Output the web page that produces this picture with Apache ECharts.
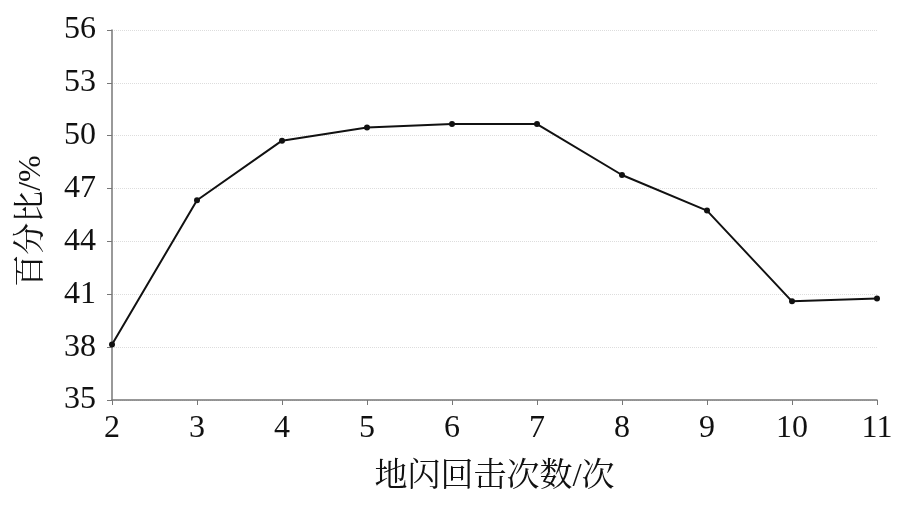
<!DOCTYPE html>
<html><head><meta charset="utf-8">
<script src="https://cdn.jsdelivr.net/npm/echarts@6/dist/echarts.min.js"></script>
<style>html,body{margin:0;padding:0;background:#fff}#c{width:909px;height:506px}</style>
</head><body><div id="c"></div>
<script>
const strokes = [2, 3, 4, 5, 6, 7, 8, 9, 10, 11];
const percent = [38.15, 46.34, 49.72, 50.47, 50.66, 50.66, 47.77, 45.75, 40.6, 40.76];
const xName = '地闪回击次数/次';
const yName = '百分比/%';
const serif = '"Liberation Serif", "Noto Serif CJK SC", "Noto Sans CJK SC", serif';

const chart = echarts.init(document.getElementById('c'));
chart.setOption({
  animation: false,
  grid: {left: 112, right: 32, top: 30, bottom: 106, containLabel: false, outerBoundsMode: 'none'},
  xAxis: {
    type: 'value', min: 2, max: 11, interval: 1,
    name: xName, nameLocation: 'middle', nameGap: 61, nameMoveOverlap: false,
    nameTextStyle: {fontFamily: serif, fontSize: 33, color: '#111'},
    axisLine: {show: true, lineStyle: {color: '#777', width: 1.5}},
    axisTick: {show: true, length: 5, lineStyle: {color: '#777'}},
    axisLabel: {fontFamily: serif, fontSize: 32, color: '#111', margin: 13},
    splitLine: {show: false}
  },
  yAxis: {
    type: 'value', min: 35, max: 56, interval: 3,
    name: yName, nameLocation: 'middle', nameGap: 64, nameRotate: 90, nameMoveOverlap: false,
    nameTextStyle: {fontFamily: serif, fontSize: 32, color: '#111', padding: [0, 12, 0, 0]},
    axisLine: {show: true, lineStyle: {color: '#777', width: 1.5}},
    axisTick: {show: true, length: 5, lineStyle: {color: '#777'}},
    axisLabel: {fontFamily: serif, fontSize: 32, color: '#111', margin: 16},
    splitLine: {show: true, lineStyle: {color: '#ddd', type: 'dotted', width: 1}}
  },
  series: [{
    type: 'line',
    data: strokes.map((s, i) => [s, percent[i]]),
    symbol: 'circle', symbolSize: 6,
    itemStyle: {color: '#111'},
    lineStyle: {color: '#111', width: 2},
    clip: false
  }]
});
</script></body></html>
